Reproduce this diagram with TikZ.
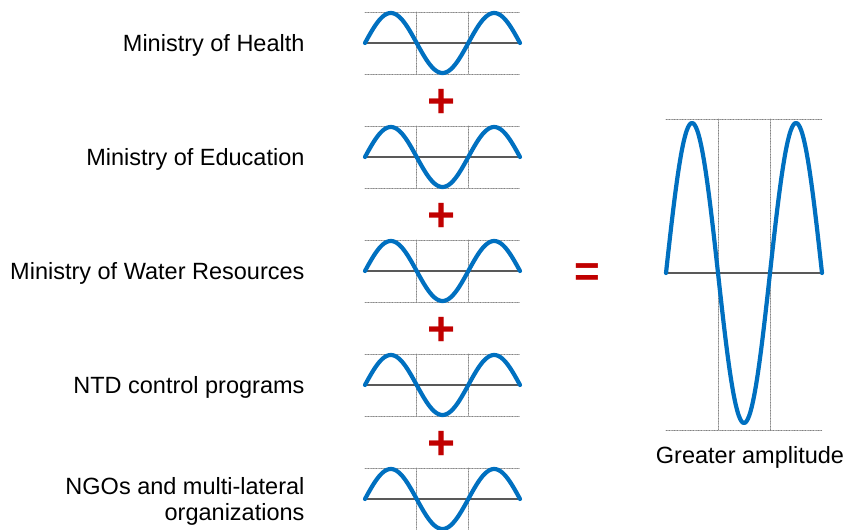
\documentclass[tikz,border=0pt]{standalone}
\usepackage{fontspec}
\setmainfont{Liberation Sans}
\usepackage{tikz}
\definecolor{waveblue}{RGB}{0,112,192}
\definecolor{signred}{RGB}{192,0,0}

\begin{document}
\begin{tikzpicture}[x=1pt, y=1pt, line join=round, line cap=round,
    wave/.style={waveblue, line width=4.2pt},
    axisline/.style={black!65, line width=1.3pt},
    guide/.style={gray, densely dotted, line width=0.6pt},
    rowtext/.style={anchor=east, align=right, font=\fontsize{23.5}{26}\selectfont},
    sign/.style={signred, font=\fontsize{48}{48}\bfseries}]
    \useasboundingbox (0,0) rectangle (844,530);

    % one small wave per ministry / partner
    \foreach \ya/\name/\txt in {487/health/Ministry of Health,
                                373/education/Ministry of Education,
                                259/water/Ministry of Water Resources,
                                145/ntd/NTD control programs,
                                31/ngo/NGOs and multi-lateral\\organizations} {
        \draw[guide] (365,\ya+31) -- (520,\ya+31);
        \draw[guide] (365,\ya-31) -- (520,\ya-31);
        \draw[guide] (416.7,\ya+31) -- (416.7,\ya-31);
        \draw[guide] (468.3,\ya+31) -- (468.3,\ya-31);
        \draw[axisline] (365,\ya) -- (520,\ya);
        \draw[wave] plot[domain=0:540, samples=91, smooth] ({365+(\x/540)*155}, {\ya+30*sin(\x)});
        \node[rowtext] (\name) at (308,\ya-2.5) {\txt};
    }

    \foreach \yp in {427,313,199,85}
        \node[sign] at (442,\yp) {+};

    \node[sign, font=\fontsize{44}{44}\bfseries] (equals) at (587,255) {=};

    % the sum
    \draw[guide] (666,411) -- (822,411);
    \draw[guide] (666,100) -- (822,100);
    \draw[guide] (718,411) -- (718,100);
    \draw[guide] (770,411) -- (770,100);
    \draw[axisline] (666,257) -- (822,257);
    \draw[wave] plot[domain=0:540, samples=121, smooth] ({666+(\x/540)*156}, {257+150*sin(\x)});

    \node[font=\fontsize{23.5}{26}\selectfont] (gain) at (750,73) {Greater amplitude};
\end{tikzpicture}
\end{document}
